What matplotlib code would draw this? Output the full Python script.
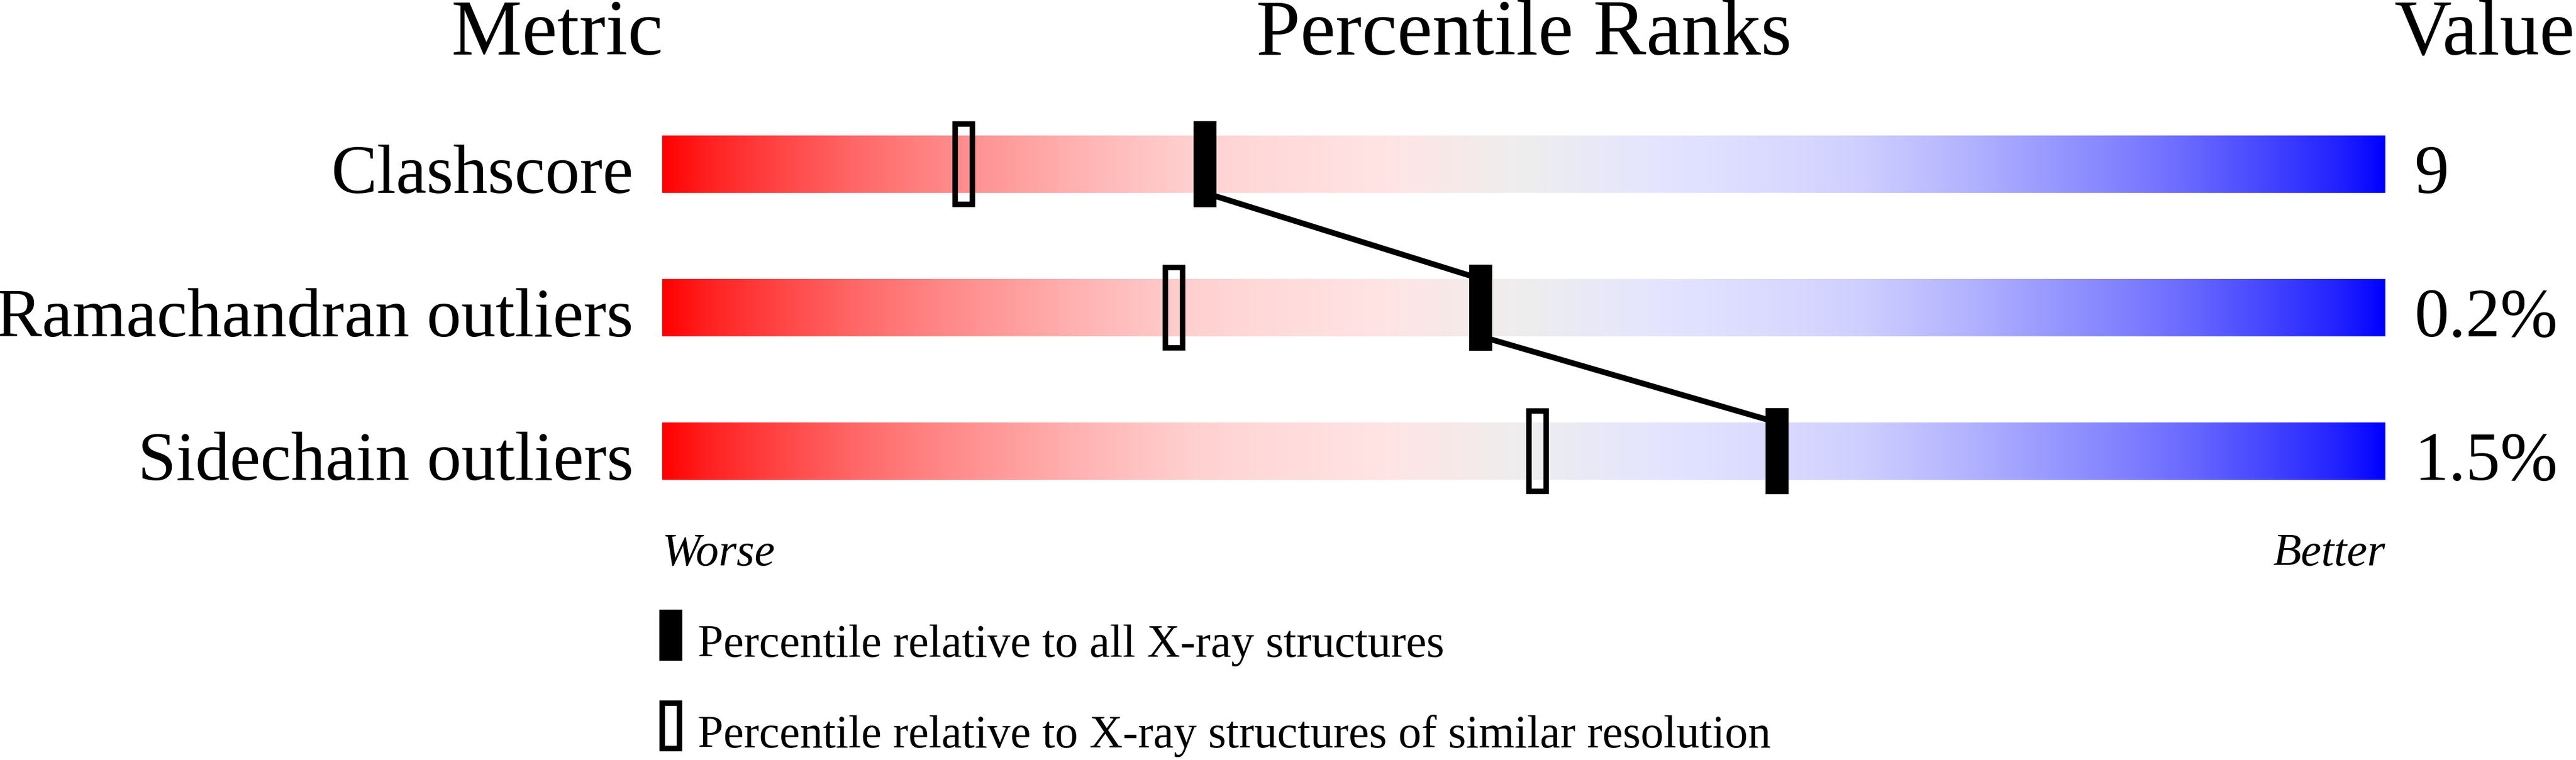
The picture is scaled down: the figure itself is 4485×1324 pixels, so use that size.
import matplotlib
matplotlib.use("Agg")
import numpy as np
import matplotlib.pyplot as plt
from matplotlib.patches import Rectangle
from matplotlib.colors import LinearSegmentedColormap

# ── Data ─────────────────────────────────────────────────────
metrics      = ["Clashscore", "Ramachandran outliers", "Sidechain outliers"]
values       = ["9", "0.2%", "1.5%"]
pct_all      = [31.5, 47.5, 64.7]   # percentile vs all X-ray structures
pct_similar  = [17.5, 29.7, 50.8]   # percentile vs similar resolution
legend_texts = ["Percentile relative to all X-ray structures",
                "Percentile relative to X-ray structures of similar resolution"]

# ── Layout (pixels of the 4485x1324 canvas) ──────────────────
W, H      = 4485, 1324
BAR_L     = 1153          # left end of the slider
PX_PER    = 30.0          # pixels per percentile
ROW0      = 286           # centre of first slider row
ROW_STEP  = 250
FONT      = "Liberation Serif"

def px_x(px):
    return (px - BAR_L) / PX_PER

def px_y(px):
    return (px - ROW0) / ROW_STEP

BAR_H   = 100 / ROW_STEP
MRK_H   = 150 / ROW_STEP
MRK_W   = 40 / PX_PER
BORDER  = 9.5             # px, open marker outline

# red -> pale -> grey -> pale -> blue slider shading
stops = [(0.0, 0), (0.025, 32), (0.067, 68), (0.11, 102), (0.15, 128),
         (0.195, 153), (0.237, 176), (0.28, 196), (0.308, 208),
         (0.345, 216), (0.42, 228)]
cols = [(f, (1.0, g / 255, g / 255)) for f, g in stops]
cols.append((0.5, (238 / 255, 238 / 255, 238 / 255)))
cols += [(1 - f, (g / 255, g / 255, 1.0)) for f, g in reversed(stops)]
cmap = LinearSegmentedColormap.from_list("slider", cols, N=1024)

fig = plt.figure(figsize=(W / 100, H / 100), dpi=100)
ax = fig.add_axes([0, 0, 1, 1])
ax.axis("off")

grad = np.linspace(0, 1, 1024).reshape(1, -1)
for i, name in enumerate(metrics):
    ax.imshow(grad, extent=(0, 100, i + BAR_H / 2, i - BAR_H / 2),
              aspect="auto", cmap=cmap, interpolation="bilinear", zorder=1)
    ax.text(px_x(1103), i + BAR_H / 2, name, ha="right", va="baseline",
            fontsize=86.4, family=FONT)
    ax.text(px_x(4203), i + BAR_H / 2, values[i], ha="left", va="baseline",
            fontsize=86.4, family=FONT)

# connecting line between filled markers
for i in range(len(metrics) - 1):
    ax.plot([pct_all[i], pct_all[i + 1]],
            [i + BAR_H / 2, i + 1 - BAR_H / 2],
            color="black", lw=7.2, solid_capstyle="butt", zorder=2)

bw = BORDER / PX_PER
bh = BORDER / ROW_STEP
for i in range(len(metrics)):
    ax.add_patch(Rectangle((pct_similar[i] - MRK_W / 2 + bw / 2, i - MRK_H / 2 + bh / 2),
                           MRK_W - bw, MRK_H - bh, fill=False,
                           edgecolor="black", lw=BORDER * 0.72,
                           joinstyle="miter", zorder=3))
    ax.add_patch(Rectangle((pct_all[i] - MRK_W / 2, i - MRK_H / 2),
                           MRK_W, MRK_H, facecolor="black",
                           edgecolor="none", zorder=4))

# headers
ax.text(px_x(970), px_y(95), "Metric", ha="center", va="baseline",
        fontsize=99.5, family=FONT)
ax.text(50, px_y(95), "Percentile Ranks", ha="center", va="baseline",
        fontsize=99.5, family=FONT)
ax.text(px_x(4483), px_y(95), "Value", ha="right", va="baseline",
        fontsize=99.5, family=FONT)

ax.text(0, px_y(985), "Worse", ha="left", va="baseline",
        fontsize=57.6, family=FONT, style="italic")
ax.text(100, px_y(985), "Better", ha="right", va="baseline",
        fontsize=57.6, family=FONT, style="italic")

# legend
leg_top  = [1062, 1220]
leg_base = [1144, 1302]
leg_h    = 89
lx = px_x(1168)
ax.add_patch(Rectangle((lx - MRK_W / 2, px_y(leg_top[0])), MRK_W,
                       leg_h / ROW_STEP, facecolor="black",
                       edgecolor="none", zorder=4))
ax.add_patch(Rectangle((lx - MRK_W / 2 + bw / 2, px_y(leg_top[1]) + bh / 2),
                       MRK_W - bw, (leg_h - BORDER) / ROW_STEP, fill=False,
                       edgecolor="black", lw=BORDER * 0.72,
                       joinstyle="miter", zorder=4))
for txt, base in zip(legend_texts, leg_base):
    ax.text(px_x(1215), px_y(base), txt, ha="left", va="baseline",
            fontsize=57.6, family=FONT)

ax.set_xlim(px_x(0), px_x(W))
ax.set_ylim(px_y(H), px_y(0))

fig.savefig("out.png", dpi=100, facecolor="white")
plt.close(fig)
